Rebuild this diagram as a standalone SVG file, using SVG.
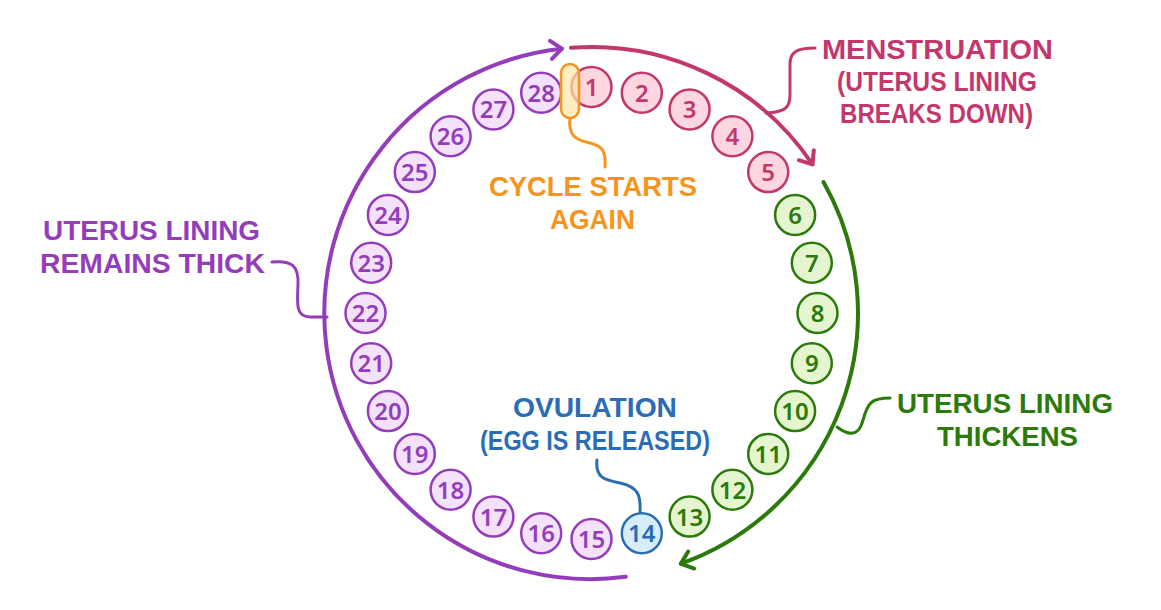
<svg xmlns="http://www.w3.org/2000/svg" width="1161" height="610" viewBox="0 0 1161 610">
<style>
text{text-anchor:middle}
.num{font-family:"Noto Sans","DejaVu Sans",sans-serif;font-weight:600;font-size:24px}
.lbl{font-family:"Liberation Sans",Arial,sans-serif;font-weight:700;font-size:27px}
.pk circle{fill:#fdd6df;stroke:#c2386d;stroke-width:2.5}
.pk text{fill:#c2386d}
.gr circle{fill:#e5f5cf;stroke:#2b7a0b;stroke-width:2.5}
.gr text{fill:#2b7a0b}
.pu circle{fill:#f4e1fb;stroke:#943dbb;stroke-width:2.5}
.pu text{fill:#943dbb}
.bl circle{fill:#d6eefc;stroke:#2b6cb5;stroke-width:2.5}
.bl text{fill:#2b6cb5}
.arc{fill:none;stroke-width:4;stroke-linecap:round}
.lead{fill:none;stroke-width:3;stroke-linecap:round}
</style>
<defs>
<marker id="mPu" markerUnits="userSpaceOnUse" orient="auto" viewBox="-14 -12 18 24" markerWidth="18" markerHeight="24" refX="0" refY="0"><path d="M-11,-9 L0,0 L-11,9" fill="none" stroke="#943dbb" stroke-width="4" stroke-linecap="round" stroke-linejoin="round"/></marker>
<marker id="mPk" markerUnits="userSpaceOnUse" orient="auto" viewBox="-14 -12 18 24" markerWidth="18" markerHeight="24" refX="0" refY="0"><path d="M-11,-9 L0,0 L-11,9" fill="none" stroke="#c2386d" stroke-width="4" stroke-linecap="round" stroke-linejoin="round"/></marker>
<marker id="mGr" markerUnits="userSpaceOnUse" orient="auto" viewBox="-14 -12 18 24" markerWidth="18" markerHeight="24" refX="0" refY="0"><path d="M-11,-9 L0,0 L-11,9" fill="none" stroke="#2b7a0b" stroke-width="4" stroke-linecap="round" stroke-linejoin="round"/></marker>
</defs>
<rect width="1161" height="610" fill="#ffffff"/>
<g id="connectors">
<path class="arc" stroke="#943dbb" d="M625.8,576.8 A266,266 0 1 1 561.9,48.7" marker-end="url(#mPu)"/>
<path class="arc" stroke="#c2386d" d="M571,47.8 A266,266 0 0 1 812.5,164.3" marker-end="url(#mPk)"/>
<path class="arc" stroke="#2b7a0b" d="M823.5,182 A266,266 0 0 1 680.8,563.7" marker-end="url(#mGr)"/>
<path class="lead" stroke="#c2386d" d="M766,113 C785,112 790,108 790,95 L790,64 C790,52 797,48 815,48"/>
<path class="lead" stroke="#2b7a0b" d="M837,427 C845,433 858,440 863,420 C868,402 872,398 890,398"/>
<path class="lead" stroke="#943dbb" d="M272,262 C292,260 299,266 298,285 C297,305 296,317 310,317 L327,317"/>
<path class="lead" stroke="#2b6cb5" d="M597,460 C595,478 605,480 620,483 C638,487 641,495 640,512"/>
<path class="lead" stroke="#f7941d" d="M570,118 C568,135 575,140 590,143 C603,146 606,152 605,167"/>
</g>
<g id="day1" class="pk"><circle cx="591.5" cy="87" r="20"/><text class="num" x="591.5" y="96">1</text></g>
<g id="day2" class="pk"><circle cx="641.8" cy="92.7" r="20"/><text class="num" x="641.8" y="101.7">2</text></g>
<g id="day3" class="pk"><circle cx="689.6" cy="109.4" r="20"/><text class="num" x="689.6" y="118.4">3</text></g>
<g id="day4" class="pk"><circle cx="732.4" cy="136.3" r="20"/><text class="num" x="732.4" y="145.3">4</text></g>
<g id="day5" class="pk"><circle cx="768.2" cy="172.1" r="20"/><text class="num" x="768.2" y="181.1">5</text></g>
<g id="day6" class="gr"><circle cx="795.1" cy="214.9" r="20"/><text class="num" x="795.1" y="223.9">6</text></g>
<g id="day7" class="gr"><circle cx="811.8" cy="262.7" r="20"/><text class="num" x="811.8" y="271.7">7</text></g>
<g id="day8" class="gr"><circle cx="817.5" cy="313" r="20"/><text class="num" x="817.5" y="322">8</text></g>
<g id="day9" class="gr"><circle cx="811.8" cy="363.3" r="20"/><text class="num" x="811.8" y="372.3">9</text></g>
<g id="day10" class="gr"><circle cx="795.1" cy="411.1" r="20"/><text class="num" x="795.1" y="420.1">10</text></g>
<g id="day11" class="gr"><circle cx="768.2" cy="453.9" r="20"/><text class="num" x="768.2" y="462.9">11</text></g>
<g id="day12" class="gr"><circle cx="732.4" cy="489.7" r="20"/><text class="num" x="732.4" y="498.7">12</text></g>
<g id="day13" class="gr"><circle cx="689.6" cy="516.6" r="20"/><text class="num" x="689.6" y="525.6">13</text></g>
<g id="day14" class="bl"><circle cx="641.8" cy="533.3" r="20"/><text class="num" x="641.8" y="542.3">14</text></g>
<g id="day15" class="pu"><circle cx="591.5" cy="539" r="20"/><text class="num" x="591.5" y="548">15</text></g>
<g id="day16" class="pu"><circle cx="541.2" cy="533.3" r="20"/><text class="num" x="541.2" y="542.3">16</text></g>
<g id="day17" class="pu"><circle cx="493.4" cy="516.6" r="20"/><text class="num" x="493.4" y="525.6">17</text></g>
<g id="day18" class="pu"><circle cx="450.6" cy="489.7" r="20"/><text class="num" x="450.6" y="498.7">18</text></g>
<g id="day19" class="pu"><circle cx="414.8" cy="453.9" r="20"/><text class="num" x="414.8" y="462.9">19</text></g>
<g id="day20" class="pu"><circle cx="387.9" cy="411.1" r="20"/><text class="num" x="387.9" y="420.1">20</text></g>
<g id="day21" class="pu"><circle cx="371.2" cy="363.3" r="20"/><text class="num" x="371.2" y="372.3">21</text></g>
<g id="day22" class="pu"><circle cx="365.5" cy="313" r="20"/><text class="num" x="365.5" y="322">22</text></g>
<g id="day23" class="pu"><circle cx="371.2" cy="262.7" r="20"/><text class="num" x="371.2" y="271.7">23</text></g>
<g id="day24" class="pu"><circle cx="387.9" cy="214.9" r="20"/><text class="num" x="387.9" y="223.9">24</text></g>
<g id="day25" class="pu"><circle cx="414.8" cy="172.1" r="20"/><text class="num" x="414.8" y="181.1">25</text></g>
<g id="day26" class="pu"><circle cx="450.6" cy="136.3" r="20"/><text class="num" x="450.6" y="145.3">26</text></g>
<g id="day27" class="pu"><circle cx="493.4" cy="109.4" r="20"/><text class="num" x="493.4" y="118.4">27</text></g>
<g id="day28" class="pu"><circle cx="541.2" cy="92.7" r="20"/><text class="num" x="541.2" y="101.7">28</text></g>
<g id="restart-marker"><rect x="561" y="64" width="18" height="54" rx="9" fill="#fde6a6" fill-opacity="0.7" stroke="#f7941d" stroke-width="2.5"/></g>
<g id="label-menstruation" fill="#c2386d">
<text class="lbl" x="937.5" y="59" textLength="231" lengthAdjust="spacingAndGlyphs">MENSTRUATION</text>
<text class="lbl" x="937" y="91" textLength="200" lengthAdjust="spacingAndGlyphs">(UTERUS LINING</text>
<text class="lbl" x="936.5" y="123" textLength="193" lengthAdjust="spacingAndGlyphs">BREAKS DOWN)</text></g>
<g id="label-cycle" fill="#f7941d">
<text class="lbl" x="593" y="196" textLength="208" lengthAdjust="spacingAndGlyphs">CYCLE STARTS</text>
<text class="lbl" x="592.5" y="229" textLength="85" lengthAdjust="spacingAndGlyphs">AGAIN</text></g>
<g id="label-thickens" fill="#2b7a0b">
<text class="lbl" x="1005" y="413" textLength="216" lengthAdjust="spacingAndGlyphs">UTERUS LINING</text>
<text class="lbl" x="1007.5" y="446" textLength="141" lengthAdjust="spacingAndGlyphs">THICKENS</text></g>
<g id="label-remains" fill="#943dbb">
<text class="lbl" x="151.5" y="240" textLength="217" lengthAdjust="spacingAndGlyphs">UTERUS LINING</text>
<text class="lbl" x="152.5" y="273" textLength="225" lengthAdjust="spacingAndGlyphs">REMAINS THICK</text></g>
<g id="label-ovulation" fill="#2b6cb5">
<text class="lbl" x="595" y="417" textLength="164" lengthAdjust="spacingAndGlyphs">OVULATION</text>
<text class="lbl" x="595" y="450" textLength="230" lengthAdjust="spacingAndGlyphs">(EGG IS RELEASED)</text></g>
</svg>
